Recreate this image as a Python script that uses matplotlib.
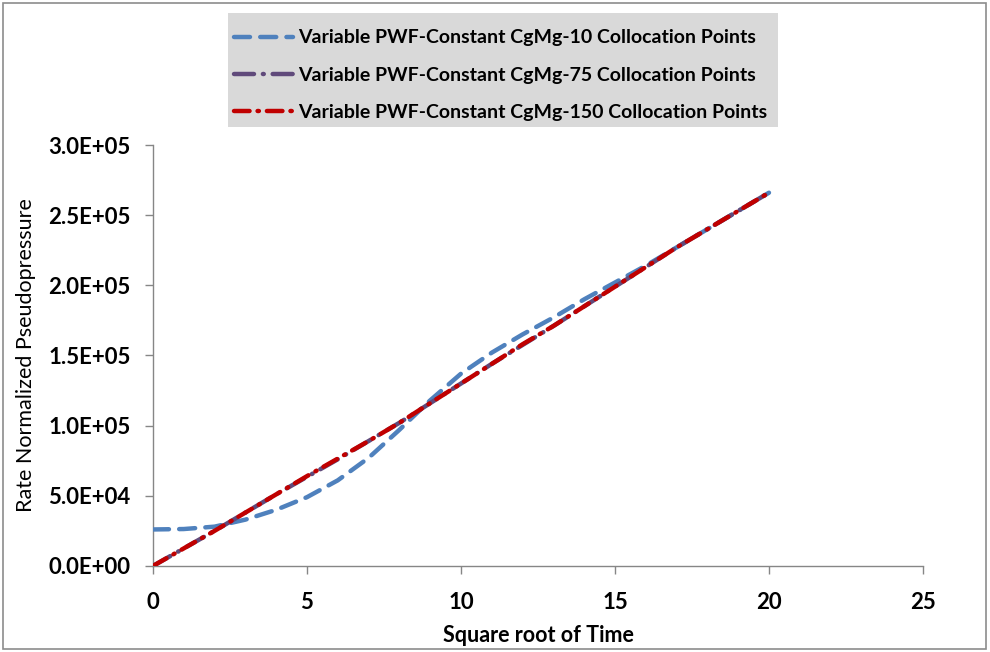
import matplotlib
matplotlib.use("Agg")
import matplotlib.pyplot as plt
from matplotlib.patches import Rectangle
from matplotlib.ticker import FuncFormatter

# square root of time
t = [0, 1, 2, 3, 4, 5, 6, 7, 8, 9, 10, 11, 12, 13, 14, 15, 16, 17, 18, 19, 20]

pts10 = [26000, 26300, 28000, 33000, 40000, 49000, 61000, 77000, 97000, 118000,
         137000, 152000, 165000, 177000, 190000, 202000, 214000, 227000, 240000,
         253000, 266000]
pts75 = [0, 12500, 25000, 38000, 51000, 63500, 76000, 89000, 102000, 116000,
         130000, 144000, 157500, 171000, 185000, 199000, 213000, 227000, 240000,
         253000, 266000]
pts150 = [0, 12500, 25000, 38000, 51000, 64000, 76500, 89000, 102000, 116000,
          130000, 144000, 158000, 171000, 185000, 199000, 213000, 227000, 240000,
          253000, 266000]

labels = ["Variable PWF-Constant CgMg-10 Collocation Points",
          "Variable PWF-Constant CgMg-75 Collocation Points",
          "Variable PWF-Constant CgMg-150 Collocation Points"]

plt.rcParams['font.family'] = ['Lato', 'DejaVu Sans']


def sci(v, pos):
    s = "%.1E" % v
    return s


def main():
    fig = plt.figure(figsize=(9.9, 6.52), dpi=100)
    ax = fig.add_axes([0.1545, 0.132, 0.7778, 0.6456])

    # outer frame
    fig.patches.append(Rectangle((0.003, 0.004), 0.993, 0.992, transform=fig.transFigure,
                                 fill=False, edgecolor='#8c8c8c', linewidth=1.2))
    # grey legend background
    fig.patches.append(Rectangle((0.2303, 0.8052), 0.5556, 0.1748, transform=fig.transFigure,
                                 facecolor='#D9D9D9', edgecolor='none', zorder=0))

    ax.plot(t, pts10, color='#4F81BD', lw=3.2, dashes=(3.6, 2.3),
            dash_capstyle='round', label=labels[0], zorder=3)
    ax.plot(t, pts75, color='#604A7B', lw=3.2, dashes=(4.5, 2.0, 0.2, 2.0),
            dash_capstyle='round', label=labels[1], zorder=4)
    ax.plot(t, pts150, color='#C00000', lw=3.2, dashes=(3.5, 1.8, 0.3, 1.8),
            dash_capstyle='round', label=labels[2], zorder=5)

    ax.set_xlim(0, 25)
    ax.set_ylim(0, 300000)
    ax.set_xticks([0, 5, 10, 15, 20, 25])
    ax.set_yticks([0, 50000, 100000, 150000, 200000, 250000, 300000])
    ax.yaxis.set_major_formatter(FuncFormatter(sci))

    for s in ['top', 'right']:
        ax.spines[s].set_visible(False)
    for s in ['left', 'bottom']:
        ax.spines[s].set_color('#868686')
        ax.spines[s].set_linewidth(1.0)
    ax.tick_params(direction='out', length=6, width=1.0, color='#868686',
                   labelsize=16)
    ax.tick_params(axis='y', pad=10)
    ax.tick_params(axis='x', pad=12.5)
    for lab in ax.get_xticklabels() + ax.get_yticklabels():
        lab.set_fontweight('bold')

    ax.set_xlabel("Square root of Time", fontsize=15.5, fontweight='bold', labelpad=9)
    ax.set_ylabel("Rate Normalized Pseudopressure", fontsize=15.5, labelpad=9)

    leg = fig.legend(loc='upper left', bbox_to_anchor=(0.2364, 0.955),
                     bbox_transform=fig.transFigure,
                     prop={'size': 14, 'weight': 'bold'}, frameon=False,
                     handlelength=3.05, labelspacing=1.05,
                     borderpad=0, handletextpad=0.26, borderaxespad=0)

    fig.savefig("out.png", dpi=100)


if __name__ == '__main__':
    main()
